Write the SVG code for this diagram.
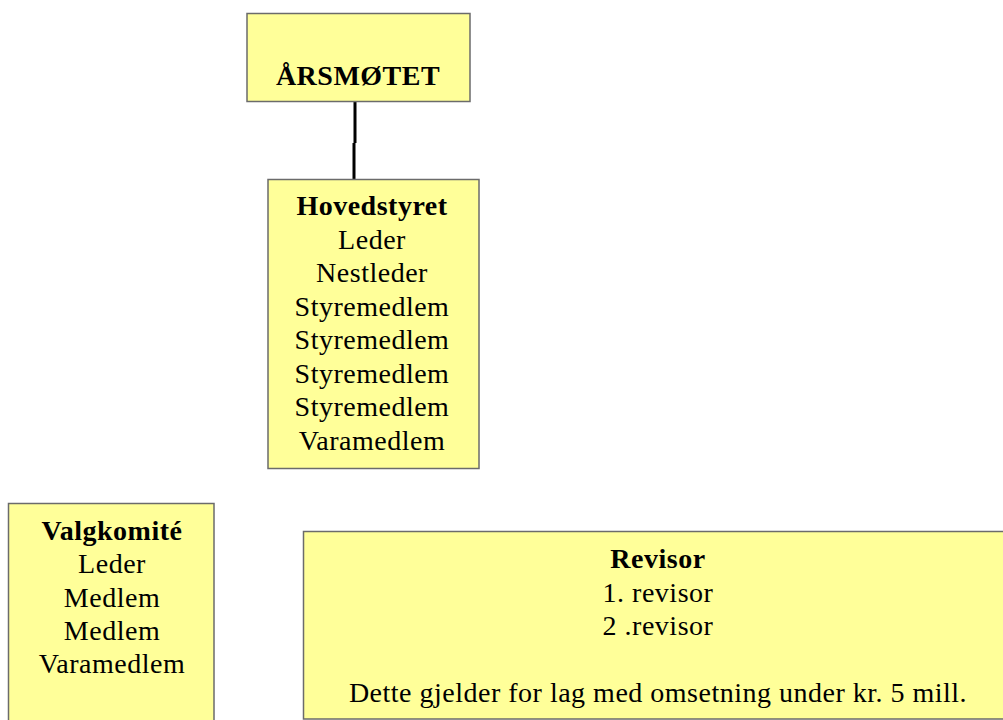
<svg xmlns="http://www.w3.org/2000/svg" width="1003" height="720" viewBox="0 0 1003 720">
<style>
.box{fill:#FFFF99;stroke:#6b6b6b;stroke-width:1.5}
.t{font-family:"Liberation Serif","Times New Roman",serif;font-size:28px;letter-spacing:0.5px;fill:#000;text-anchor:middle}
.b{font-weight:bold}
.conn{stroke:#000;stroke-width:3;fill:none}
</style>
<rect width="1003" height="720" fill="#fff"/>
<g id="connectors">
<path class="conn" d="M355 101 V143 M354 143 V188"/>
</g>
<g id="arsmotet">
<rect class="box" x="247" y="13.5" width="223" height="88"/>
<text class="t b" x="358" y="85">ÅRSMØTET</text>
</g>
<g id="hovedstyret">
<rect class="box" x="268" y="179.5" width="211" height="289"/>
<text class="t b" x="372" y="215">Hovedstyret</text>
<text class="t" x="372" y="248.5">Leder</text>
<text class="t" x="372" y="282">Nestleder</text>
<text class="t" x="372" y="315.5">Styremedlem</text>
<text class="t" x="372" y="349">Styremedlem</text>
<text class="t" x="372" y="382.5">Styremedlem</text>
<text class="t" x="372" y="416">Styremedlem</text>
<text class="t" x="372" y="449.5">Varamedlem</text>
</g>
<g id="valgkomite">
<rect class="box" x="8.5" y="503.5" width="205.5" height="230"/>
<text class="t b" x="112" y="540">Valgkomité</text>
<text class="t" x="112" y="573">Leder</text>
<text class="t" x="112" y="607">Medlem</text>
<text class="t" x="112" y="640">Medlem</text>
<text class="t" x="112" y="673">Varamedlem</text>
</g>
<g id="revisor">
<rect class="box" x="303.5" y="531.5" width="710" height="187.5"/>
<text class="t b" x="658" y="568">Revisor</text>
<text class="t" x="658" y="602">1. revisor</text>
<text class="t" x="658" y="635">2 .revisor</text>
<text class="t" x="658" y="702">Dette gjelder for lag med omsetning under kr. 5 mill.</text>
</g>
</svg>
